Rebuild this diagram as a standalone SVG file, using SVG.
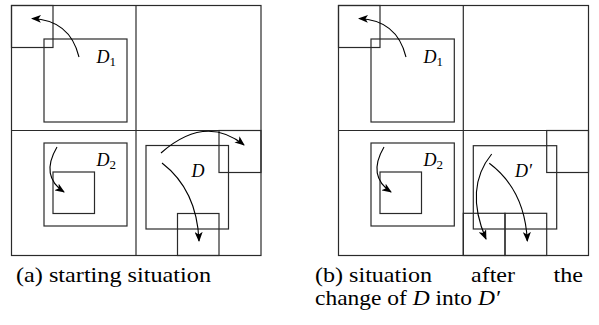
<svg xmlns="http://www.w3.org/2000/svg" width="599" height="325" viewBox="0 0 599 325">
<style>
  .box{fill:none;stroke:#2a2a2a;stroke-width:1.2}
  .arr{fill:none;stroke:#000;stroke-width:1.1;marker-end:url(#ah)}
  .lbl{font-family:"Liberation Serif",serif;font-style:italic;font-size:18px;fill:#000}
  .sub{font-style:normal;font-size:13px}
  .cap{font-family:"Liberation Serif",serif;font-size:21px;fill:#000}
  .capi{font-style:italic}
</style>
<defs>
  <marker id="ah" viewBox="0 0 10 8" refX="9" refY="4" markerWidth="10" markerHeight="8" markerUnits="userSpaceOnUse" orient="auto">
    <path d="M0,0 L10,4 L0,8 L2.5,4 Z" fill="#000"/>
  </marker>
</defs>
<rect width="599" height="325" fill="#fff"/>

<g id="figure-a">
  <g id="grid-a">
    <rect class="box" x="11.5" y="5.5" width="249.5" height="250"/>
    <line class="box" x1="136" y1="5.5" x2="136" y2="255.5"/>
    <line class="box" x1="11.5" y1="130.5" x2="261" y2="130.5"/>
  </g>
  <g id="a-corner"><rect class="box" x="11.5" y="5.5" width="41.5" height="42"/></g>
  <g id="a-D1"><rect class="box" x="44" y="39" width="83" height="83"/>
    <text class="lbl" x="96.5" y="62.5">D<tspan class="sub" dy="3">1</tspan></text></g>
  <g id="a-D2"><rect class="box" x="44" y="143" width="83" height="83"/>
    <text class="lbl" x="96.5" y="165.5">D<tspan class="sub" dy="3">2</tspan></text></g>
  <g id="a-D2-inner"><rect class="box" x="53" y="172" width="41.5" height="41.5"/></g>
  <g id="a-D"><rect class="box" x="146" y="145.5" width="82.5" height="83.5"/>
    <text class="lbl" x="191.5" y="177">D</text></g>
  <g id="a-right"><rect class="box" x="219" y="130.5" width="42" height="42"/></g>
  <g id="a-bottom"><rect class="box" x="177.5" y="213.5" width="41.5" height="42"/></g>
  <g id="connectors-a">
    <path class="arr" d="M79,57 Q70,20 32,18.5"/>
    <path class="arr" d="M57,147 Q40,176 64,192"/>
    <path class="arr" d="M161,153 Q205,114 244,145"/>
    <path class="arr" d="M162,163 Q197,190 199,241"/>
  </g>
</g>

<g id="figure-b">
  <g id="grid-b">
    <rect class="box" x="338.5" y="5.5" width="250" height="250"/>
    <line class="box" x1="463.3" y1="5.5" x2="463.3" y2="255.5"/>
    <line class="box" x1="338.5" y1="130.5" x2="588.5" y2="130.5"/>
  </g>
  <g id="b-corner"><rect class="box" x="338.5" y="5.5" width="41.5" height="42"/></g>
  <g id="b-D1"><rect class="box" x="371" y="39" width="83.3" height="83"/>
    <text class="lbl" x="423.5" y="62.5">D<tspan class="sub" dy="3">1</tspan></text></g>
  <g id="b-D2"><rect class="box" x="371" y="143" width="83.3" height="83"/>
    <text class="lbl" x="423.5" y="165.5">D<tspan class="sub" dy="3">2</tspan></text></g>
  <g id="b-D2-inner"><rect class="box" x="380" y="172" width="41.5" height="41.5"/></g>
  <g id="b-Dprime"><rect class="box" x="473.3" y="145.7" width="83.4" height="83.3"/>
    <text class="lbl" x="515" y="177">D′</text></g>
  <g id="b-right"><rect class="box" x="546.7" y="130.5" width="41.8" height="42"/></g>
  <g id="b-bottom-1"><rect class="box" x="463.3" y="213.3" width="41.7" height="42.2"/></g>
  <g id="b-bottom-2"><rect class="box" x="505" y="213.3" width="41.7" height="42.2"/></g>
  <g id="connectors-b">
    <path class="arr" d="M406,57 Q397,20 359,18.5"/>
    <path class="arr" d="M384,147 Q367,176 391,192"/>
    <path class="arr" d="M491.7,154 Q464,188 486,239"/>
    <path class="arr" d="M489.3,163.3 Q525,190 527.3,241"/>
  </g>
</g>

<g id="captions">
  <text class="cap" x="16" y="282" textLength="195" lengthAdjust="spacingAndGlyphs">(a) starting situation</text>
  <text class="cap" x="315" y="282" textLength="117" lengthAdjust="spacingAndGlyphs">(b) situation</text>
  <text class="cap" x="471" y="282" textLength="44" lengthAdjust="spacingAndGlyphs">after</text>
  <text class="cap" x="553.5" y="282" textLength="29.5" lengthAdjust="spacingAndGlyphs">the</text>
  <text class="cap" x="315" y="305" textLength="185" lengthAdjust="spacingAndGlyphs">change of <tspan class="capi">D</tspan> into <tspan class="capi">D′</tspan></text>
</g>
</svg>
